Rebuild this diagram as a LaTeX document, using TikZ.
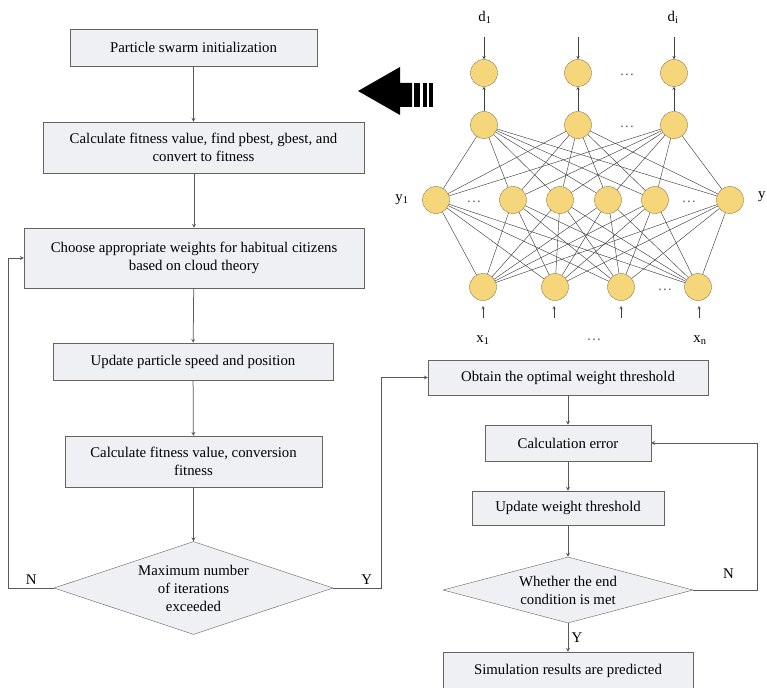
\documentclass[tikz,border=0pt]{standalone}
\usepackage{fontspec}
\setmainfont{Liberation Serif}
\usetikzlibrary{shapes.geometric}

\definecolor{boxfill}{RGB}{238,240,244}
\definecolor{boxline}{RGB}{100,100,100}
\definecolor{cellfill}{RGB}{246,214,122}
\definecolor{cellline}{RGB}{140,122,78}

\tikzset{
  stepbox/.style={draw=boxline, fill=boxfill, align=center, inner sep=0pt},
  decision/.style={diamond, draw=boxline, fill=boxfill, align=center, inner sep=-8pt},
  neuron/.style={circle, draw=cellline, fill=cellfill, minimum size=27pt, inner sep=0pt},
  link/.style={draw=black!75, line width=0.45pt},
  flow/.style={->, draw=black!65, line width=0.75pt},
}

\begin{document}
\begin{tikzpicture}[x=1pt, y=-1pt, >=stealth, font=\fontsize{14.8}{18}\selectfont]
    \useasboundingbox (0,0) rectangle (767,687);

    % Left flowchart
    \node[stepbox, minimum width=247pt, minimum height=37pt] (init) at (193.5,47.5) {Particle swarm initialization};
    \node[stepbox, minimum width=321pt, minimum height=51pt] (fit1) at (203.5,147.5) {Calculate fitness value, find pbest, gbest, and\\convert to fitness};
    \node[stepbox, minimum width=340pt, minimum height=60pt] (cloud) at (194,258) {Choose appropriate weights for habitual citizens\\based on cloud theory};
    \node[stepbox, minimum width=280pt, minimum height=37pt] (speed) at (193,361.5) {Update particle speed and position};
    \node[stepbox, minimum width=257pt, minimum height=51pt] (fit2) at (193.5,461.5) {Calculate fitness value, conversion\\fitness};
    \node[decision, aspect=3, minimum width=279pt, minimum height=93pt] (maxit) at (193.5,588) {Maximum number\\of iterations\\exceeded};

    % Right flowchart
    \node[stepbox, minimum width=280pt, minimum height=35pt] (optw) at (568,377.5) {Obtain the optimal weight threshold};
    \node[stepbox, minimum width=166pt, minimum height=36pt] (err) at (568,443) {Calculation error};
    \node[stepbox, minimum width=192pt, minimum height=34pt] (updw) at (568,508) {Update weight threshold};
    \node[decision, aspect=3.8, minimum width=250pt, minimum height=66pt] (endc) at (568,590) {Whether the end\\condition is met};
    \node[stepbox, minimum width=250pt, minimum height=38pt] (sim) at (568,671) {Simulation results are predicted};

    % Arrows
    \draw[flow] (init) -- (init |- fit1.north);
    \draw[flow] (cloud |- fit1.south) -- (cloud);
    \draw[flow] (cloud) -- (speed);
    \draw[flow] (speed) -- (fit2);
    \draw[flow] (fit2) -- (maxit);
    \draw[flow] (maxit.west) -- ++(-45,0) node[midway, above] {N} |- (cloud.west);
    \draw[flow] (maxit.east) -- ++(48,0) node[pos=0.7, above] {Y} |- (optw.west);
    \draw[flow] (optw) -- (err);
    \draw[flow] (err) -- (updw);
    \draw[flow] (updw) -- (endc);
    \draw[flow] (endc) -- (sim) node[midway, right] {Y};
    \draw[flow] (endc.east) -- ++(64,0) node[pos=0.55, above=8pt] {N} |- (err.east);

    % Network
    \node[neuron] (o1) at (484,73) {};
    \node[neuron] (o2) at (578,73) {};
    \node[neuron] (o3) at (674,73) {};
    \node[neuron] (z1) at (484,125) {};
    \node[neuron] (z2) at (578,125) {};
    \node[neuron] (z3) at (674,125) {};
    \node[neuron] (y1) at (436,200) {};
    \node[neuron] (y2) at (513,200) {};
    \node[neuron] (y3) at (560,200) {};
    \node[neuron] (y4) at (608,200) {};
    \node[neuron] (y5) at (655,200) {};
    \node[neuron] (y6) at (730,200) {};
    \node[neuron] (x1) at (483,287) {};
    \node[neuron] (x2) at (555,287) {};
    \node[neuron] (x3) at (621,287) {};
    \node[neuron] (x4) at (698,287) {};

    \node[text=black!60] (dots1) at (627,75) {\dots};
    \node[text=black!60] (dots2) at (627,127) {\dots};
    \node[text=black!60] (dots3) at (474,202) {\dots};
    \node[text=black!60] (dots4) at (689,202) {\dots};
    \node[text=black!60] (dots5) at (665,290) {\dots};

    \foreach \i in {1,2,3}
      \foreach \j in {1,...,6}
        \draw[link] (z\i) -- (y\j);
    \foreach \j in {1,...,6}
      \foreach \k in {1,...,4}
        \draw[link] (y\j) -- (x\k);

    \draw[->, link] (z1) -- (o1);
    \draw[->, link] (z2) -- (o2);
    \draw[->, link] (z3) -- (o3);

    % Targets and inputs
    \node (ld1) at (485,17) {d\textsubscript{1}};
    \node (ldi) at (673,17) {d\textsubscript{i}};
    \coordinate (t1) at (484,37);
    \coordinate (t2) at (578,37);
    \coordinate (t3) at (674,37);
    \draw[->, link] (t1) -- (o1);
    \draw[->, link] (t2) -- (o2);
    \draw[->, link] (t3) -- (o3);

    \node (ly1) at (402,200) {y\textsubscript{1}};
    \node[anchor=west, inner sep=0pt] (lyj) at (758,197) {y};

    \coordinate (s1) at (483,318);
    \coordinate (s2) at (554,318);
    \coordinate (s3) at (621,318);
    \coordinate (s4) at (699,318);
    \draw[->, link] (s1) -- ++(0,-12);
    \draw[->, link] (s2) -- ++(0,-12);
    \draw[->, link] (s3) -- ++(0,-12);
    \draw[->, link] (s4) -- ++(0,-12);
    \node (lx1) at (483,340) {x\textsubscript{1}};
    \node[text=black!60] (ldx) at (594,340) {\dots};
    \node (lxn) at (700,340) {x\textsubscript{n}};

    % Big arrow
    \fill (358,91) -- (400,67) -- (400,83) -- (412,83) -- (412,107) -- (400,107) -- (400,115) -- cycle;
    \fill (414,83) rectangle (420,107);
    \fill (423,83) rectangle (427,107);
    \fill (429,83) rectangle (433,107);
\end{tikzpicture}
\end{document}
